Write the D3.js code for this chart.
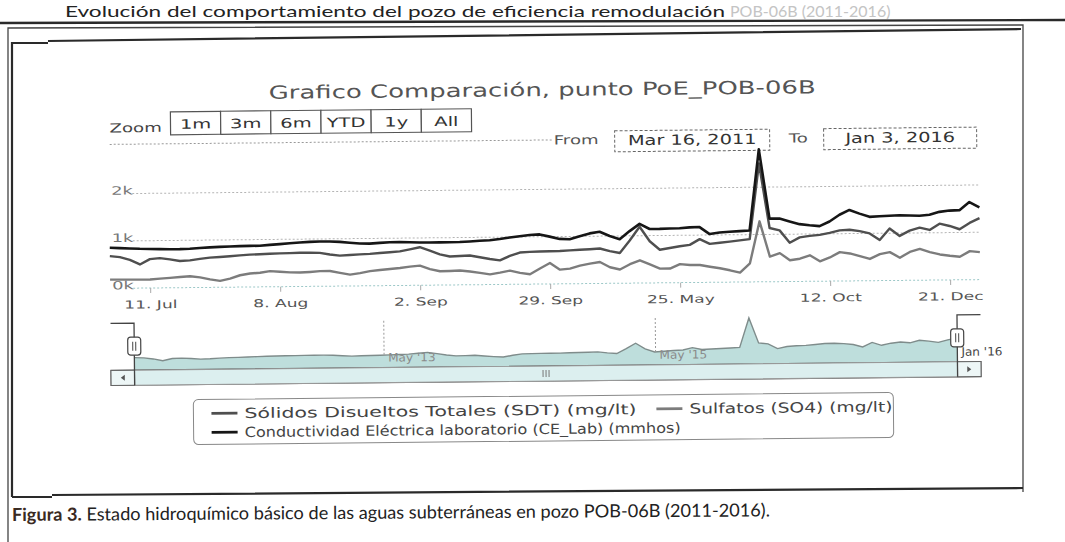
<!DOCTYPE html>
<html>
<head>
<meta charset="utf-8">
<script src="https://cdn.jsdelivr.net/npm/d3@7"></script>
<style>
body { margin: 0; background: #fff; }
svg { display: block; }
text { font-family: "DejaVu Sans", Verdana, sans-serif; }
text.doc, .doc text { font-family: Lato, "Open Sans", sans-serif; }
</style>
</head>
<body>
<div id="chart"></div>
<script>
// one value per sample, samples evenly spaced (ordinal axis, Mar 2011 - Jan 2016)
const ceLab = [860, 850, 840, 830, 825, 820, 815, 815, 820, 835,
    845, 855, 860, 865, 868, 870, 885, 900, 915, 930,
    940, 945, 945, 935, 915, 895, 890, 905, 917, 915,
    910, 905, 903, 902, 902, 905, 915, 928, 936, 960,
    990, 1015, 1040, 1049, 1000, 950, 940, 1000, 1060, 1092,
    1000, 930, 1100, 1250, 1140, 1140, 1145, 1149, 1165, 1170,
    1020, 1050, 1064, 1075, 1087, 2800, 1334, 1332, 1270, 1210,
    1185, 1165, 1260, 1400, 1500, 1420, 1350, 1360, 1370, 1377,
    1370, 1362, 1380, 1440, 1465, 1472, 1640, 1526];
const sdt = [681, 660, 600, 500, 610, 630, 600, 565, 575, 605,
    628, 640, 655, 670, 683, 691, 698, 704, 708, 712,
    713, 705, 670, 643, 655, 665, 675, 690, 704, 720,
    760, 804, 730, 650, 602, 610, 619, 580, 540, 509,
    600, 670, 682, 688, 690, 694, 705, 715, 725, 738,
    680, 640, 900, 1190, 880, 700, 735, 770, 796, 915,
    813, 835, 857, 880, 904, 2500, 1136, 1083, 820, 930,
    960, 980, 1020, 1070, 1080, 1050, 1000, 860, 1100, 940,
    1050, 1110, 1060, 1190, 1140, 1068, 1200, 1298];
const so4 = [185, 183, 181, 180, 179, 195, 210, 225, 240, 215,
    170, 135, 180, 250, 285, 300, 330, 315, 300, 294,
    305, 320, 320, 280, 240, 270, 310, 330, 351, 370,
    395, 415, 340, 291, 296, 302, 280, 250, 215, 250,
    290, 240, 210, 330, 443, 300, 320, 380, 420, 453,
    340, 290, 400, 480, 390, 300, 300, 391, 370, 368,
    330, 296, 250, 198, 394, 1279, 532, 602, 450, 480,
    550, 420, 500, 610, 580, 520, 460, 560, 600, 480,
    600, 660, 590, 540, 510, 487, 604, 581];

const xTickIdx = [4, 17, 31, 44, 57, 72, 84];
const xTickLabels = ["11. Jul", "8. Aug", "2. Sep", "29. Sep", "25. May", "12. Oct", "21. Dec"];
const yTicks = [0, 1000, 2000];
const navTickIdx = [26.4, 55.1, 87];
const navTickLabels = ["May '13", "May '15", "Jan '16"];
const zoomButtons = ["1m", "3m", "6m", "YTD", "1y", "All"];
const rangeFrom = "Mar 16, 2011";
const rangeTo = "Jan 3, 2016";
const seriesNames = ["Sólidos Disueltos Totales (SDT) (mg/lt)",
    "Sulfatos (SO4) (mg/lt)",
    "Conductividad Eléctrica laboratorio (CE_Lab) (mmhos)"];
const chartTitle = "Grafico Comparación, punto PoE_POB-06B";
const heading = "Evolución del comportamiento del pozo de eficiencia remodulación";
const headingTail = "POB-06B (2011-2016)";
const captionBold = "Figura 3.";
const captionText = " Estado hidroquímico básico de las aguas subterráneas en pozo POB-06B (2011-2016).";

const W = 1065, H = 542;
const N = ceLab.length;
const SX = 1.45; // the scan is stretched sideways

const series = [
    { values: sdt, color: "#4f4f4f", width: 2.4 },
    { values: so4, color: "#7c7c7c", width: 2.4 },
    { values: ceLab, color: "#161616", width: 2.6 },
];

const svg = d3.select("#chart").append("svg")
    .attr("width", W)
    .attr("height", H);
svg.append("rect").attr("width", W).attr("height", H).attr("fill", "#fff");

function stretch(sel, k) {
    sel.each(function () {
        const w = this.getComputedTextLength();
        d3.select(this).attr("textLength", w * k).attr("lengthAdjust", "spacingAndGlyphs");
    });
}

function label(parent, str, x, y, size, fill, anchor) {
    return parent.append("text")
        .attr("x", x).attr("y", y)
        .attr("font-size", size)
        .attr("fill", fill)
        .attr("text-anchor", anchor || "start")
        .text(str);
}

// ---- page around the figure ----
const page = svg.append("g").attr("class", "doc");
page.append("text")
    .attr("x", 65).attr("y", 17)
    .attr("font-size", 16).attr("fill", "#222")
    .attr("textLength", 660).attr("lengthAdjust", "spacingAndGlyphs")
    .text(heading);
page.append("text")
    .attr("x", 730).attr("y", 17)
    .attr("font-size", 16).attr("fill", "#c4c4c4")
    .text(headingTail);

page.append("path").attr("d", "M0,23L1065,20")
    .attr("stroke", "#2a2a2a").attr("stroke-width", 2.4).attr("fill", "none");
page.append("path").attr("d", "M8,542L8,28L1023,25L1023,492")
    .attr("stroke", "#444").attr("stroke-width", 1.3).attr("fill", "none");
page.append("path").attr("d", "M12,497L12,43L48,43M48,41L1021,29M12,497L52,497M52,495L1023,488")
    .attr("stroke", "#2a2a2a").attr("stroke-width", 2.2).attr("fill", "none");

const cap = page.append("text")
    .attr("x", 12).attr("y", 521)
    .attr("font-size", 18).attr("fill", "#222")
    .attr("textLength", 758).attr("lengthAdjust", "spacingAndGlyphs")
    .attr("transform", "rotate(-0.35,12,521)");
cap.append("tspan").attr("font-weight", "bold").attr("fill", "#3a2a22").text(captionBold);
cap.append("tspan").text(captionText);

// ---- chart (slightly rotated, like the scan) ----
const g = svg.append("g").attr("transform", "rotate(-0.58,545,270)");

label(g, chartTitle, 544, 96, 18, "#555", "middle").call(stretch, 1.44);

// range selector
label(g, "Zoom", 111, 128, 12.5, "#444").call(stretch, SX);
const bx = d3.scaleBand().domain(zoomButtons).range([172, 473]);
const btn = g.selectAll("g.btn").data(zoomButtons).join("g")
    .attr("class", "btn")
    .attr("transform", d => `translate(${bx(d)},108)`);
btn.append("rect")
    .attr("width", bx.bandwidth()).attr("height", 23)
    .attr("fill", "#fff").attr("stroke", "#555").attr("stroke-width", 1.2);
btn.append("text")
    .attr("x", bx.bandwidth() / 2).attr("y", 17)
    .attr("text-anchor", "middle")
    .attr("font-size", 13).attr("fill", "#333")
    .text(d => d)
    .call(stretch, 1.5);

g.append("path").attr("d", "M111,140L555,140")
    .attr("stroke", "#999").attr("stroke-dasharray", "2,2");

label(g, "From", 555, 144.5, 12.5, "#555").call(stretch, SX);
label(g, "To", 790, 145, 12.5, "#555").call(stretch, SX);
g.append("rect").attr("x", 616).attr("y", 131.5).attr("width", 155).attr("height", 21)
    .attr("fill", "none").attr("stroke", "#666").attr("stroke-dasharray", "3,2");
g.append("rect").attr("x", 825).attr("y", 131.5).attr("width", 153).attr("height", 21)
    .attr("fill", "none").attr("stroke", "#666").attr("stroke-dasharray", "3,2");
label(g, rangeFrom, 693.5, 146, 14, "#333", "middle").call(stretch, 1.38);
label(g, rangeTo, 901.5, 146, 14, "#333", "middle").call(stretch, 1.38);

// main plot
const x = d3.scaleLinear().domain([0, N - 1]).range([110, 980]);
const y = d3.scaleLinear().domain([0, 2800]).range([284, 151.5]);

g.append("g").selectAll("line").data(yTicks).join("line")
    .attr("x1", 133).attr("x2", 980)
    .attr("y1", d => y(d)).attr("y2", d => y(d))
    .attr("stroke", d => d === 0 ? "#9cc8c8" : "#b4b4b4")
    .attr("stroke-dasharray", "2,2");
g.append("g").selectAll("text").data(yTicks).join("text")
    .attr("x", 112).attr("y", d => y(d) + 1)
    .attr("font-size", 11.5).attr("fill", "#777")
    .text(d => d / 1000 + "k")
    .call(stretch, 1.55);

const xAxis = d3.axisBottom(x)
    .tickValues(xTickIdx)
    .tickFormat((d, i) => xTickLabels[i])
    .tickSize(5)
    .tickPadding(7.5);
const ax = g.append("g").attr("transform", `translate(0,${y(0)})`).call(xAxis);
ax.select(".domain").remove();
ax.selectAll("line").attr("stroke", "#aaa");
ax.selectAll("text")
    .attr("font-size", 11).attr("fill", "#555")
    .attr("font-family", "DejaVu Sans")
    .call(stretch, 1.55);

const line = d3.line().x((d, i) => x(i)).y(d => y(d));
g.append("g").selectAll("path").data([series[1], series[0], series[2]]).join("path")
    .attr("d", d => line(d.values))
    .attr("fill", "none")
    .attr("stroke", d => d.color)
    .attr("stroke-width", d => d.width)
    .attr("stroke-linejoin", "round");

// navigator
const xn = d3.scaleLinear().domain([0, N - 1]).range([133.5, 956.5]);
const yn = d3.scaleLinear().domain([0, d3.max(sdt)]).range([366, 320]);
const area = d3.area().x((d, i) => xn(i)).y0(366).y1(d => yn(d));
g.append("path").attr("d", area(sdt))
    .attr("fill", "#b3d8d6").attr("fill-opacity", 0.85);
g.append("path").attr("d", d3.line().x((d, i) => xn(i)).y(d => yn(d))(sdt))
    .attr("fill", "none").attr("stroke", "#7f8c8b").attr("stroke-width", 1.4);

g.append("g").selectAll("line").data(navTickIdx.slice(0, -1)).join("line")
    .attr("x1", d => xn(d)).attr("x2", d => xn(d))
    .attr("y1", 319).attr("y2", 353)
    .attr("stroke", "#999").attr("stroke-dasharray", "2,2");
g.append("g").selectAll("text").data(navTickIdx).join("text")
    .attr("x", d => xn(d) + 4).attr("y", 360)
    .attr("font-size", 11.5)
    .attr("fill", (d, i) => i === navTickIdx.length - 1 ? "#444" : "#8a8a8a")
    .text((d, i) => navTickLabels[i])
    .call(stretch, 1.05);

// scrollbar
g.append("rect").attr("x", 110).attr("y", 366).attr("width", 870).attr("height", 15)
    .attr("fill", "#e4f2f2").attr("stroke", "#555").attr("stroke-width", 1.2);
g.append("rect").attr("x", xn(0)).attr("y", 366).attr("width", xn(N - 1) - xn(0)).attr("height", 15)
    .attr("fill", "#dcefef").attr("stroke", "#999");
[[110, -1], [xn(N - 1), 1]].forEach(([bx0, dir]) => {
    g.append("rect").attr("x", bx0).attr("y", 366).attr("width", 23.5).attr("height", 15)
        .attr("fill", "#edf6f6").attr("stroke", "#666");
    const cx = bx0 + 11.75, cy = 373.5;
    g.append("path")
        .attr("d", `M${cx + 2 * dir},${cy}L${cx - 2 * dir},${cy - 3}L${cx - 2 * dir},${cy + 3}Z`)
        .attr("fill", "#555");
});
const gripX = (xn(0) + xn(N - 1)) / 2;
g.append("path")
    .attr("d", [-3, 0, 3].map(o => `M${gripX + o},370L${gripX + o},377`).join(""))
    .attr("stroke", "#777");

// navigator outline + handles
g.append("path")
    .attr("d", `M110,319L${xn(0)},319L${xn(0)},381M${xn(N - 1)},381L${xn(N - 1)},319L980,319`)
    .attr("fill", "none").attr("stroke", "#444").attr("stroke-width", 1.3);
const handles = g.selectAll("g.handle").data([xn(0), xn(N - 1)]).join("g")
    .attr("class", "handle")
    .attr("transform", d => `translate(${d},342)`);
handles.append("rect")
    .attr("x", -6.5).attr("y", -9).attr("width", 13).attr("height", 18).attr("rx", 3)
    .attr("fill", "#fff").attr("stroke", "#444").attr("stroke-width", 1.2);
handles.append("path").attr("d", "M-1.5,-4.5L-1.5,4.5M1.5,-4.5L1.5,4.5")
    .attr("stroke", "#444");

// legend
const lg = g.append("g");
lg.append("rect").attr("x", 192).attr("y", 396).attr("width", 700).attr("height", 45).attr("rx", 5)
    .attr("fill", "none").attr("stroke", "#888");
const legendItems = [
    { s: series[0], name: seriesNames[0], x: 210, y: 415, w: 392 },
    { s: series[1], name: seriesNames[1], x: 655, y: 415, w: 203 },
    { s: series[2], name: seriesNames[2], x: 210, y: 434, w: 436 },
];
legendItems.forEach(it => {
    lg.append("line").attr("x1", it.x).attr("x2", it.x + 26)
        .attr("y1", it.y - 5).attr("y2", it.y - 5)
        .attr("stroke", it.s.color).attr("stroke-width", 2.6);
    label(lg, it.name, it.x + 33, it.y, 14, "#444")
        .attr("textLength", it.w).attr("lengthAdjust", "spacingAndGlyphs");
});
</script>
</body>
</html>
